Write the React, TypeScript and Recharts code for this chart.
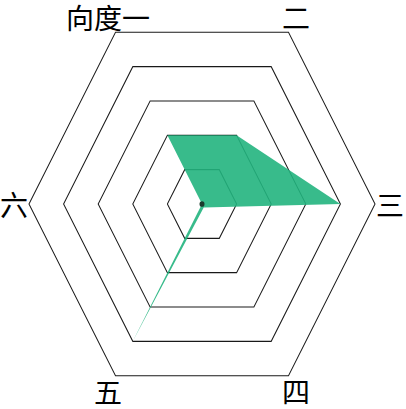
import { RadarChart, Radar, PolarGrid, PolarAngleAxis, PolarRadiusAxis } from 'recharts';

const axes = ['向度一', '二', '三', '四', '五', '六'];
const scores = [2, 2, 4, 0.1, 4, 0];

const data = axes.map((axis, i) => ({ axis, score: scores[i] }));

// the original is stretched vertically, so the svg is scaled and the labels un-scaled
const W = 406;
const H = 356;
const CX = 202;
const CY = 178;
const R = 173;
const S = 204 / 178;

function AxisTick(props: any) {
  const angle = (props.payload.coordinate * Math.PI) / 180;
  const x = CX + (R + 15) * Math.cos(angle);
  const y = CY - (R + 15) * Math.sin(angle);
  return (
    <text
      x={0}
      y={0}
      transform={`translate(${x},${y}) scale(1,${1 / S})`}
      textAnchor="middle"
      dominantBaseline="central"
      fontSize={28}
      fontFamily="'Noto Sans CJK SC', sans-serif"
      fill="#000"
    >
      {props.payload.value}
    </text>
  );
}

function ZeroDot(props: any) {
  if (props.payload?.score !== 0 && props.value !== 0) return <g />;
  return <circle cx={props.cx} cy={props.cy} r={2.5} fill="#1b3a2c" />;
}

export default function App() {
  return (
    <div style={{ position: 'absolute', left: 0, top: 0, width: 406, height: 409, background: '#fff', overflow: 'hidden' }}>
      <style>{`svg { overflow: visible; }`}</style>
      <div style={{ transform: `scaleY(${S})`, transformOrigin: '0 0', width: W, height: H }}>
        <RadarChart
          width={W}
          height={H}
          data={data}
          cx={CX}
          cy={CY}
          outerRadius={R}
          startAngle={120}
          endAngle={-240}
          margin={{ top: 0, right: 0, bottom: 0, left: 0 }}
        >
          <PolarGrid gridType="polygon" radialLines={false} stroke="#000" strokeOpacity={0.9} />
          <PolarAngleAxis dataKey="axis" tick={AxisTick} tickLine={false} axisLine={false} />
          <PolarRadiusAxis domain={[0, 5]} tickCount={6} tick={false} axisLine={false} />
          <Radar
            dataKey="score"
            stroke="none"
            fill="#22b47e"
            fillOpacity={0.9}
            dot={ZeroDot}
            isAnimationActive={false}
          />
        </RadarChart>
      </div>
    </div>
  );
}
